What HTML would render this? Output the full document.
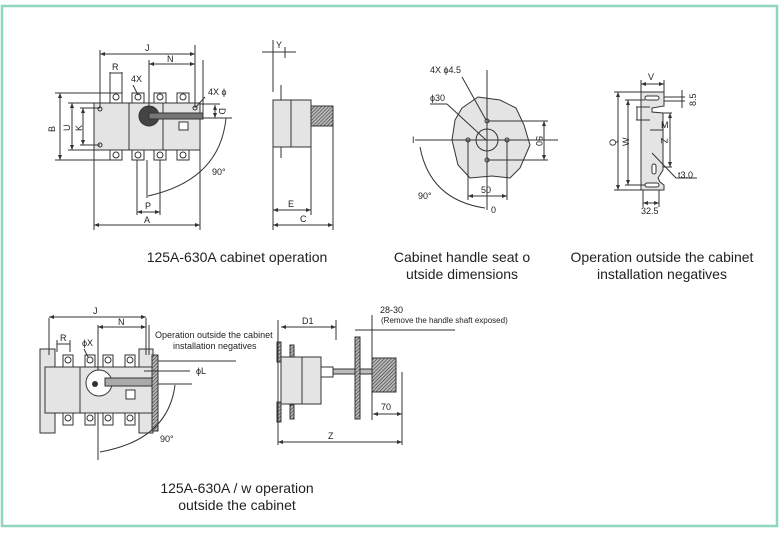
<!DOCTYPE html>
<html><head><meta charset="utf-8"><style>
html,body{margin:0;padding:0;background:#fff;}
svg{display:block;}
text{font-family:"Liberation Sans",Arial,sans-serif;fill:#222;}
.t{font-size:14px;}
.s{font-size:9px;}
.l{stroke:#333;stroke-width:1;fill:none;}
.b{stroke:#333;stroke-width:1;fill:#e4e4e4;}
.w{stroke:#333;stroke-width:1;fill:#fff;}
.h{stroke:#333;stroke-width:1;fill:url(#hat);}
</style></head><body>
<svg width="780" height="534" viewBox="0 0 780 534" xmlns="http://www.w3.org/2000/svg">
<defs>
<pattern id="hat" width="2.5" height="2.5" patternUnits="userSpaceOnUse" patternTransform="rotate(45)"><rect width="2.5" height="2.5" fill="#bbb"/><line x1="0" y1="0" x2="0" y2="2.5" stroke="#333" stroke-width="1.2"/></pattern>
<marker id="a" markerWidth="6" markerHeight="6" refX="5" refY="3" orient="auto-start-reverse"><path d="M0,1 L5,3 L0,5z" fill="#333"/></marker>
</defs>
<rect x="2" y="6" width="775" height="520" fill="none" stroke="#8fd6c0" stroke-width="2.5"/>

<!-- Diagram 1 -->
<g>
<rect x="110" y="93" width="12" height="10" class="w"/><circle cx="116" cy="97" r="3" class="l"/>
<rect x="132" y="93" width="12" height="10" class="w"/><circle cx="138" cy="97" r="3" class="l"/>
<rect x="154" y="93" width="12" height="10" class="w"/><circle cx="160" cy="97" r="3" class="l"/>
<rect x="177" y="93" width="12" height="10" class="w"/><circle cx="183" cy="97" r="3" class="l"/>
<rect x="110" y="150" width="12" height="10" class="w"/><circle cx="116" cy="155" r="3" class="l"/>
<rect x="132" y="150" width="12" height="10" class="w"/><circle cx="138" cy="155" r="3" class="l"/>
<rect x="154" y="150" width="12" height="10" class="w"/><circle cx="160" cy="155" r="3" class="l"/>
<rect x="177" y="150" width="12" height="10" class="w"/><circle cx="183" cy="155" r="3" class="l"/>
<rect x="94" y="103" width="106" height="47" class="b"/>
<line x1="129" y1="103" x2="129" y2="150" class="l"/><line x1="163" y1="103" x2="163" y2="150" class="l"/>
<circle cx="149" cy="116" r="10" fill="#444" stroke="#333"/>
<rect x="149" y="113" width="54" height="6" fill="#777" stroke="#333"/>
<rect x="179" y="122" width="9" height="8" class="w"/>
<circle cx="100" cy="109" r="2" class="l"/><circle cx="100" cy="145" r="2" class="l"/><circle cx="195" cy="108" r="2" class="l"/>
<line x1="94" y1="103" x2="94" y2="230" class="l"/><line x1="200" y1="150" x2="200" y2="230" class="l"/>
<line x1="94" y1="225" x2="200" y2="225" class="l" marker-start="url(#a)" marker-end="url(#a)"/>
<text x="144" y="223" class="s">A</text>
<line x1="100" y1="50" x2="100" y2="108" class="l"/><line x1="195" y1="45" x2="195" y2="108" class="l"/>
<line x1="100" y1="54" x2="195" y2="54" class="l" marker-start="url(#a)" marker-end="url(#a)"/>
<text x="145" y="51" class="s">J</text>
<line x1="149" y1="60" x2="149" y2="108" class="l"/><line x1="203" y1="60" x2="203" y2="118" class="l"/>
<line x1="149" y1="64" x2="195" y2="64" class="l" marker-start="url(#a)" marker-end="url(#a)"/>
<text x="167" y="62" class="s">N</text>
<line x1="110" y1="72" x2="110" y2="93" class="l"/><line x1="122" y1="72" x2="122" y2="93" class="l"/>
<line x1="110" y1="73" x2="122" y2="73" class="l"/><text x="112" y="70" class="s">R</text>
<text x="131" y="82" class="s">4X</text><line x1="133" y1="85" x2="138" y2="95" class="l"/>
<text x="208" y="95" class="s">4X ϕ</text><line x1="205" y1="97" x2="196" y2="107" class="l"/>
<line x1="55" y1="93" x2="110" y2="93" class="l"/><line x1="55" y1="160" x2="110" y2="160" class="l"/>
<line x1="60" y1="93" x2="60" y2="160" class="l" marker-start="url(#a)" marker-end="url(#a)"/>
<text x="47" y="130" class="s" transform="rotate(-90 52 127)">B</text>
<line x1="68" y1="103" x2="94" y2="103" class="l"/><line x1="68" y1="150" x2="94" y2="150" class="l"/>
<line x1="72" y1="103" x2="72" y2="150" class="l" marker-start="url(#a)" marker-end="url(#a)"/>
<text x="63" y="130" class="s" transform="rotate(-90 67 127)">U</text>
<line x1="80" y1="108" x2="100" y2="108" class="l"/><line x1="80" y1="145" x2="100" y2="145" class="l"/>
<line x1="83" y1="108" x2="83" y2="145" class="l" marker-start="url(#a)" marker-end="url(#a)"/>
<text x="75" y="130" class="s" transform="rotate(-90 79 127)">K</text>
<line x1="215" y1="105" x2="215" y2="118" class="l" marker-start="url(#a)" marker-end="url(#a)"/>
<line x1="200" y1="104" x2="220" y2="104" class="l"/><line x1="203" y1="118" x2="232" y2="118" class="l"/>
<text x="219" y="114" class="s" transform="rotate(90 222 111)">D</text>
<path d="M226,118 Q220,180 148,196" class="l"/>
<line x1="147" y1="160" x2="147" y2="198" class="l"/>
<text x="212" y="175" class="s">90°</text>
<line x1="137" y1="160" x2="137" y2="215" class="l"/><line x1="160" y1="160" x2="160" y2="215" class="l"/>
<line x1="137" y1="212" x2="160" y2="212" class="l" marker-start="url(#a)" marker-end="url(#a)"/>
<text x="145" y="209" class="s">P</text>
</g>
<!-- side view -->
<g>
<rect x="273" y="100" width="38" height="47" class="b"/>
<line x1="291" y1="100" x2="291" y2="147" class="l"/>
<line x1="281" y1="85" x2="281" y2="100" class="l"/><line x1="281" y1="147" x2="281" y2="158" class="l"/>
<rect x="311" y="106" width="22" height="20" class="h"/>
<line x1="273" y1="40" x2="273" y2="92" class="l"/><line x1="273" y1="147" x2="273" y2="230" class="l"/>
<line x1="311" y1="147" x2="311" y2="215" class="l"/><line x1="333" y1="126" x2="333" y2="230" class="l"/>
<line x1="273" y1="210" x2="311" y2="210" class="l" marker-start="url(#a)" marker-end="url(#a)"/>
<text x="288" y="207" class="s">E</text>
<line x1="273" y1="225" x2="333" y2="225" class="l" marker-start="url(#a)" marker-end="url(#a)"/>
<text x="300" y="222" class="s">C</text>
<line x1="262" y1="52" x2="296" y2="52" class="l"/><line x1="285" y1="47" x2="285" y2="58" class="l"/>
<text x="276" y="48" class="s">Y</text>
</g>
<text x="237" y="262" class="t" text-anchor="middle">125A-630A cabinet operation</text>

<!-- Diagram 3 handle seat -->
<g>
<path d="M462,108 L478,97 L500,100 L516,108 L524,125 L530,145 L520,168 L510,178 L492,176 L470,178 L458,165 L452,140 L455,120 Z" class="b"/>
<circle cx="487" cy="140" r="11" class="l"/>
<circle cx="487" cy="121" r="2" class="l"/><circle cx="487" cy="160" r="2" class="l"/>
<circle cx="468" cy="140" r="2" class="l"/><circle cx="507" cy="140" r="2" class="l"/>
<line x1="487" y1="70" x2="487" y2="210" class="l"/>
<line x1="415" y1="140" x2="558" y2="140" class="l"/>
<line x1="487" y1="121" x2="548" y2="121" class="l"/><line x1="487" y1="160" x2="548" y2="160" class="l"/>
<line x1="544" y1="121" x2="544" y2="160" class="l" marker-start="url(#a)" marker-end="url(#a)"/>
<text x="536" y="144" class="s" transform="rotate(90 540 140)">50</text>
<line x1="468" y1="140" x2="468" y2="200" class="l"/><line x1="507" y1="140" x2="507" y2="200" class="l"/>
<line x1="468" y1="196" x2="507" y2="196" class="l" marker-start="url(#a)" marker-end="url(#a)"/>
<text x="481" y="193" class="s">50</text>
<text x="430" y="73" class="s">4X ϕ4.5</text><line x1="462" y1="77" x2="486" y2="120" class="l"/>
<text x="430" y="101" class="s">ϕ30</text><line x1="430" y1="104" x2="447" y2="104" class="l"/><line x1="447" y1="104" x2="486" y2="140" class="l"/>
<text x="412" y="143" class="s">I</text>
<text x="418" y="199" class="s">90°</text>
<path d="M420,147 Q430,200 485,208" class="l"/>
<text x="491" y="213" class="s">0</text>
</g>
<text x="462" y="262" class="t" text-anchor="middle">Cabinet handle seat o</text>
<text x="462" y="279" class="t" text-anchor="middle">utside dimensions</text>

<!-- Diagram 4 bracket -->
<g>
<path d="M641,92 L664,92 L664,106 L652,108 L652,112 L663,113 L663,170 L658,178 L660,182 L664,185 L664,190 L641,190 Z" class="b"/>
<rect x="645" y="96" width="14" height="4" rx="2" class="w"/>
<rect x="645" y="183" width="14" height="4" rx="2" class="w"/>
<rect x="652" y="164" width="4" height="10" rx="2" class="w"/>
<line x1="641" y1="80" x2="641" y2="92" class="l"/><line x1="664" y1="80" x2="664" y2="92" class="l"/>
<line x1="641" y1="84" x2="664" y2="84" class="l" marker-start="url(#a)" marker-end="url(#a)"/>
<text x="648" y="80" class="s">V</text>
<line x1="614" y1="92" x2="641" y2="92" class="l"/><line x1="614" y1="190" x2="641" y2="190" class="l"/>
<line x1="618" y1="92" x2="618" y2="190" class="l" marker-start="url(#a)" marker-end="url(#a)"/>
<text x="608" y="146" class="s" transform="rotate(-90 612 142)">Q</text>
<line x1="625" y1="100" x2="645" y2="100" class="l"/><line x1="625" y1="185" x2="645" y2="185" class="l"/>
<line x1="628" y1="100" x2="628" y2="185" class="l" marker-start="url(#a)" marker-end="url(#a)"/>
<text x="621" y="146" class="s" transform="rotate(-90 625 142)">W</text>
<line x1="664" y1="97" x2="685" y2="97" class="l"/><line x1="664" y1="101" x2="685" y2="101" class="l"/>
<line x1="682" y1="90" x2="682" y2="108" class="l"/>
<text x="688" y="106" class="s" transform="rotate(-90 692 102)">8.5</text>
<line x1="636" y1="107" x2="650" y2="107" class="l"/><line x1="636" y1="120" x2="650" y2="120" class="l"/>
<line x1="637" y1="107" x2="637" y2="120" class="l"/>
<line x1="650" y1="130" x2="663" y2="130" class="l"/><text x="661" y="128" class="s">M</text>
<line x1="663" y1="113" x2="672" y2="113" class="l"/><line x1="663" y1="167" x2="672" y2="167" class="l"/>
<line x1="670" y1="113" x2="670" y2="167" class="l" marker-start="url(#a)" marker-end="url(#a)"/>
<text x="661" y="144" class="s" transform="rotate(90 664 141)">Z</text>
<line x1="652" y1="153" x2="676" y2="178" class="l"/><line x1="676" y1="178" x2="697" y2="178" class="l"/>
<text x="678" y="178" class="s">t3.0</text>
<line x1="643" y1="190" x2="643" y2="207" class="l"/><line x1="659" y1="190" x2="659" y2="207" class="l"/>
<line x1="643" y1="203" x2="659" y2="203" class="l" marker-start="url(#a)" marker-end="url(#a)"/>
<text x="641" y="214" class="s">32.5</text>
</g>
<text x="662" y="262" class="t" text-anchor="middle">Operation outside the cabinet</text>
<text x="662" y="279" class="t" text-anchor="middle">installation negatives</text>

<!-- Diagram 5 -->
<g>
<rect x="63" y="355" width="10" height="12" class="w"/><circle cx="68" cy="360" r="3" class="l"/>
<rect x="85" y="355" width="10" height="12" class="w"/><circle cx="90" cy="360" r="3" class="l"/>
<rect x="103" y="355" width="10" height="12" class="w"/><circle cx="108" cy="360" r="3" class="l"/>
<rect x="125" y="355" width="10" height="12" class="w"/><circle cx="130" cy="360" r="3" class="l"/>
<rect x="63" y="413" width="10" height="12" class="w"/><circle cx="68" cy="418" r="3" class="l"/>
<rect x="85" y="413" width="10" height="12" class="w"/><circle cx="90" cy="418" r="3" class="l"/>
<rect x="103" y="413" width="10" height="12" class="w"/><circle cx="108" cy="418" r="3" class="l"/>
<rect x="125" y="413" width="10" height="12" class="w"/><circle cx="130" cy="418" r="3" class="l"/>
<rect x="40" y="349" width="15" height="84" class="b"/>
<rect x="139" y="349" width="14" height="84" class="b"/>
<rect x="45" y="367" width="107" height="46" class="b"/>
<line x1="80" y1="367" x2="80" y2="413" class="l"/>
<circle cx="99" cy="383" r="13" class="w"/><circle cx="95" cy="384" r="3" fill="#333"/>
<rect x="105" y="378" width="48" height="8" fill="#aaa" stroke="#333"/>
<rect x="126" y="390" width="9" height="9" class="w"/>
<rect x="152" y="355" width="6" height="76" class="h"/>
<line x1="49" y1="318" x2="49" y2="355" class="l"/><line x1="146" y1="318" x2="146" y2="355" class="l"/>
<line x1="49" y1="317" x2="146" y2="317" class="l" marker-start="url(#a)" marker-end="url(#a)"/>
<text x="93" y="314" class="s">J</text>
<line x1="98" y1="325" x2="98" y2="370" class="l"/><line x1="149" y1="325" x2="149" y2="355" class="l"/>
<line x1="98" y1="327" x2="146" y2="327" class="l" marker-start="url(#a)" marker-end="url(#a)"/>
<text x="118" y="325" class="s">N</text>
<line x1="57" y1="340" x2="57" y2="352" class="l"/><line x1="70" y1="340" x2="70" y2="352" class="l"/>
<line x1="57" y1="344" x2="70" y2="344" class="l"/><text x="60" y="341" class="s">R</text>
<text x="82" y="346" class="s">ϕX</text><line x1="84" y1="349" x2="88" y2="357" class="l"/>
<text x="155" y="338" class="s">Operation outside the cabinet</text>
<text x="173" y="349" class="s">installation negatives</text>
<line x1="158" y1="361" x2="236" y2="361" class="l"/>
<line x1="144" y1="371" x2="190" y2="371" class="l"/><text x="196" y="374" class="s">ϕL</text>
<line x1="158" y1="384" x2="192" y2="384" class="l"/>
<path d="M175,385 Q168,440 100,452" class="l"/>
<line x1="98" y1="413" x2="98" y2="460" class="l"/>
<text x="160" y="442" class="s">90°</text>
</g>
<text x="237" y="493" class="t" text-anchor="middle">125A-630A / w operation</text>
<text x="237" y="510" class="t" text-anchor="middle">outside the cabinet</text>

<!-- Diagram 6 -->
<g>
<rect x="277" y="342" width="4" height="20" class="h"/><rect x="277" y="402" width="4" height="20" class="h"/>
<rect x="290" y="345" width="4" height="14" class="h"/><rect x="290" y="405" width="4" height="14" class="h"/>
<rect x="281" y="357" width="40" height="47" class="b"/>
<line x1="302" y1="357" x2="302" y2="404" class="l"/>
<rect x="321" y="367" width="12" height="10" class="w"/>
<rect x="333" y="369" width="40" height="5" fill="#bbb" stroke="#333"/>
<rect x="355" y="337" width="5" height="82" class="h"/>
<rect x="372" y="358" width="24" height="34" class="h"/>
<line x1="372" y1="315" x2="372" y2="420" class="l"/>
<line x1="402" y1="372" x2="402" y2="445" class="l"/>
<line x1="278" y1="320" x2="278" y2="445" class="l"/><line x1="336" y1="320" x2="336" y2="340" class="l"/>
<line x1="281" y1="327" x2="336" y2="327" class="l" marker-start="url(#a)" marker-end="url(#a)"/>
<text x="302" y="324" class="s">D1</text>
<line x1="355" y1="330" x2="372" y2="330" class="l"/><line x1="372" y1="330" x2="455" y2="330" class="l"/>
<text x="380" y="313" class="s">28-30</text>
<text x="381" y="323" style="font-size:8px">(Remove the handle shaft exposed)</text>
<line x1="373" y1="414" x2="402" y2="414" class="l" marker-start="url(#a)" marker-end="url(#a)"/>
<text x="381" y="410" class="s">70</text>
<line x1="278" y1="442" x2="402" y2="442" class="l" marker-start="url(#a)" marker-end="url(#a)"/>
<text x="328" y="439" class="s">Z</text>
</g>
</svg>
</body></html>
